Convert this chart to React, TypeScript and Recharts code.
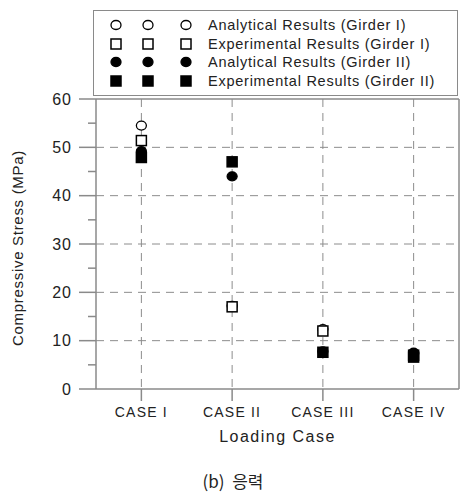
import {
  ScatterChart,
  Scatter,
  XAxis,
  YAxis,
  CartesianGrid,
  ReferenceLine,
  Label,
} from "recharts";

const CASES = ["CASE I", "CASE II", "CASE III", "CASE IV"];
const ANALYTICAL_I = [54.5, 17.2, 12.4, 7.3];
const EXPERIMENTAL_I = [51.4, 17.0, 12.0, 7.0];
const ANALYTICAL_II = [49.2, 44.0, 7.8, 7.5];
const EXPERIMENTAL_II = [47.9, 47.0, 7.6, 6.6];
const Y_TICKS = [0, 5, 10, 15, 20, 25, 30, 35, 40, 45, 50, 55, 60];
const GRID_Y = [10, 20, 30, 40, 50];

const FONT = "'Liberation Sans', Arial, sans-serif";
const AXIS = "#8a8a8a";
const GRID = "#8c8c8c";
const TEXT = "#222";

type Kind = "circle" | "square";

const SERIES: { name: string; values: number[]; kind: Kind; filled: boolean }[] = [
  { name: "Analytical Results (Girder I)", values: ANALYTICAL_I, kind: "circle", filled: false },
  { name: "Experimental Results (Girder I)", values: EXPERIMENTAL_I, kind: "square", filled: false },
  { name: "Analytical Results (Girder II)", values: ANALYTICAL_II, kind: "circle", filled: true },
  { name: "Experimental Results (Girder II)", values: EXPERIMENTAL_II, kind: "square", filled: true },
];

function Marker({ cx, cy, kind, filled }: { cx: number; cy: number; kind: Kind; filled: boolean }) {
  const fill = filled ? "#000" : "#fff";
  if (kind === "circle") {
    return <ellipse cx={cx} cy={cy} rx={5} ry={4.5} fill={fill} stroke="#000" strokeWidth={1.3} />;
  }
  return <rect x={cx - 5} y={cy - 5} width={10} height={10} fill={fill} stroke="#000" strokeWidth={1.5} />;
}

function YTick(props: any) {
  const { x, y, payload } = props;
  const major = payload.value % 10 === 0;
  return (
    <g>
      <line x1={x - (major ? 17 : 8)} x2={x} y1={y} y2={y} stroke={AXIS} strokeWidth={1.5} />
      {major && (
        <text x={x - 24} y={y} dy={5.5} textAnchor="end" fontSize={16} letterSpacing={1} fill={TEXT} fontFamily={FONT}>
          {payload.value}
        </text>
      )}
    </g>
  );
}

function YLabel(props: any) {
  const { viewBox } = props;
  const cy = viewBox.y + viewBox.height / 2 + 4;
  return (
    <text
      x={18}
      y={cy}
      transform={`rotate(-90, 18, ${cy})`}
      textAnchor="middle"
      dy={5}
      fontSize={15}
      letterSpacing={0.7}
      fill={TEXT}
      fontFamily={FONT}
    >
      Compressive Stress (MPa)
    </text>
  );
}

function Legend() {
  const cols = [115, 147, 185];
  return (
    <div
      style={{
        position: "absolute",
        left: 93,
        top: 10,
        width: 365,
        height: 86,
        border: `1.5px solid ${AXIS}`,
        background: "#fff",
        boxSizing: "border-box",
      }}
    >
      {SERIES.map((s, i) => (
        <div key={s.name} style={{ position: "absolute", left: 0, top: 6 + i * 18.5, height: 18, width: "100%" }}>
          <svg width={110} height={18} style={{ position: "absolute", left: 0, top: 0 }}>
            {cols.map((c) => (
              <Marker key={c} cx={c - 93} cy={8} kind={s.kind} filled={s.filled} />
            ))}
          </svg>
          <span
            style={{
              position: "absolute",
              left: 114,
              top: 0,
              fontFamily: FONT,
              fontSize: 14.5,
              letterSpacing: 0.75,
              color: TEXT,
              whiteSpace: "nowrap",
              lineHeight: "16px",
            }}
          >
            {s.name}
          </span>
        </div>
      ))}
    </div>
  );
}

export default function App() {
  return (
    <div style={{ position: "absolute", left: 0, top: 0, width: 460, height: 492, background: "#fff", overflow: "hidden" }}>
      <ScatterChart width={460} height={492} margin={{ top: 99, right: 1, left: 0, bottom: 73 }}>
        <CartesianGrid
          stroke={GRID}
          strokeDasharray="8 6"
          horizontalValues={GRID_Y}
          verticalValues={[1, 2, 3, 4]}
        />
        <XAxis
          type="number"
          dataKey="x"
          domain={[0.5, 4.5]}
          ticks={[1, 2, 3, 4]}
          tickFormatter={(v) => CASES[v - 1]}
          height={30}
          tickSize={12}
          tickMargin={6}
          stroke={AXIS}
          strokeWidth={1.5}
          tick={{ fontSize: 14, fill: TEXT, fontFamily: FONT, letterSpacing: 1.2 }}
        >
          <Label
            value="Loading Case"
            position="bottom"
            offset={12}
            style={{ fontSize: 16, fill: TEXT, fontFamily: FONT, letterSpacing: 1.5 }}
          />
        </XAxis>
        <YAxis
          type="number"
          dataKey="y"
          domain={[0, 60]}
          ticks={Y_TICKS}
          width={96}
          tickSize={0}
          tickMargin={0}
          tickLine={false}
          stroke={AXIS}
          strokeWidth={1.5}
          tick={<YTick />}
        >
          <Label content={<YLabel />} />
        </YAxis>
        <ReferenceLine y={60} stroke={AXIS} strokeWidth={1.5} />
        <ReferenceLine x={4.5} stroke={AXIS} strokeWidth={1.5} />
        {SERIES.map((s) => (
          <Scatter
            key={s.name}
            name={s.name}
            data={CASES.map((c, i) => ({ x: i + 1, y: s.values[i], label: c }))}
            isAnimationActive={false}
            shape={(p: any) => <Marker cx={p.cx} cy={p.cy} kind={s.kind} filled={s.filled} />}
          />
        ))}
      </ScatterChart>
      <Legend />
      <div
        style={{
          position: "absolute",
          left: 0,
          width: 466,
          top: 471,
          height: 20,
          lineHeight: "20px",
          textAlign: "center",
          fontFamily: "'Noto Sans CJK KR', sans-serif",
          fontSize: 17,
          color: TEXT,
          whiteSpace: "pre",
        }}
      >
        {"(b)  응력"}
      </div>
    </div>
  );
}
